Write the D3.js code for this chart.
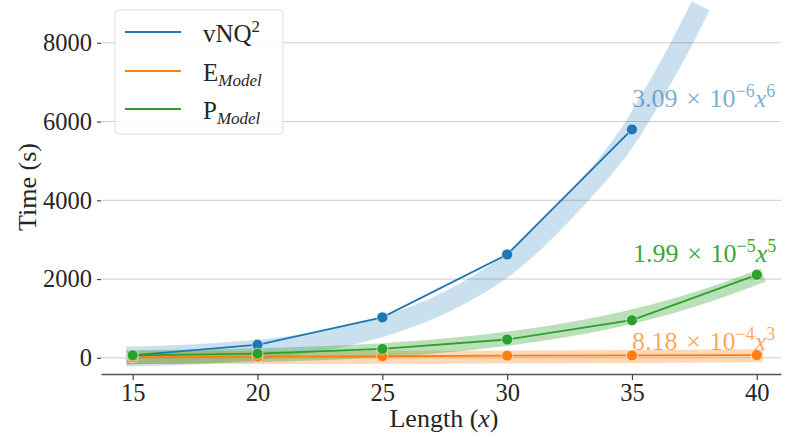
<!DOCTYPE html>
<html>
<head>
<meta charset="utf-8">
<script src="https://cdn.jsdelivr.net/npm/d3@7"></script>
<style>
  body { margin: 0; background: #fff; }
  svg { display: block; }
  text { font-family: "Liberation Serif", "DejaVu Serif", serif; }
</style>
</head>
<body>
<div id="chart"></div>
<script>
// measured points
var lengths = [15, 20, 25, 30, 35, 40];
var vnqTimes = [60, 331, 1027, 2624, 5800];          // no run at 40
var eTimes = [15, 30, 40, 55, 60, 70];
var pTimes = [64, 105, 225, 465, 955, 2107];

// fitted curves (thick light bands)
var vnqFitX = [14.75, 17.5, 20, 22.5, 25, 27.5, 30, 32.5, 35, 36, 37, 37.75];
var vnqFitY = [35, 90, 205, 420, 790, 1400, 2350, 3850, 5780, 6850, 8000, 8940];
var eFitX = [14.75, 20, 25, 30, 35, 40, 40.25];
var eFitY = [3, 7, 13, 22, 35, 52, 53];
var pFitX = [14.75, 17.5, 20, 22.5, 25, 27.5, 30, 32.5, 35, 37.5, 40, 40.25];
var pFitY = [14, 33, 64, 115, 194, 313, 484, 720, 1045, 1480, 2038, 2100];

var yTicks = [0, 2000, 4000, 6000, 8000];

var W = 788, H = 437;
var mLeft = 101, mRight = 781, mTop = 0, mBottom = 374;

var blue = "#1f77b4", orange = "#ff7f0e", green = "#2ca02c";

var svg = d3.select("#chart").append("svg")
    .attr("width", W)
    .attr("height", H);

var x = d3.scaleLinear().domain([13.73, 40.97]).range([mLeft, mRight]);
var y = d3.scaleLinear().domain([-411, 9087]).range([mBottom, mTop]);

svg.append("clipPath").attr("id", "clip")
    .append("rect")
    .attr("x", mLeft).attr("y", mTop)
    .attr("width", mRight - mLeft).attr("height", mBottom - mTop);

// gridlines
svg.append("g")
    .selectAll("line")
    .data(yTicks)
    .enter()
    .append("line")
    .attr("x1", mLeft).attr("x2", mRight)
    .attr("y1", function (d) { return y(d); })
    .attr("y2", function (d) { return y(d); })
    .attr("stroke", "#cccccc")
    .attr("stroke-width", 1);

// y axis (ticks + labels only)
var yAxis = svg.append("g")
    .attr("transform", "translate(" + mLeft + ",0)")
    .call(d3.axisLeft(y).tickValues(yTicks).tickSize(4).tickPadding(5).tickFormat(d3.format("d")));
yAxis.select(".domain").remove();
yAxis.selectAll(".tick line").attr("stroke", "#444").attr("stroke-width", 1.2);
yAxis.selectAll(".tick text")
    .attr("font-size", "24.5px")
    .attr("fill", "#262626");

// x axis
var xAxis = svg.append("g")
    .attr("transform", "translate(0," + mBottom + ")")
    .call(d3.axisBottom(x).tickValues(lengths).tickSize(6).tickPadding(4).tickSizeOuter(0));
xAxis.select(".domain").attr("stroke", "#555").attr("stroke-width", 1.6);
xAxis.selectAll(".tick line").attr("stroke", "#444").attr("stroke-width", 1.2);
xAxis.selectAll(".tick text")
    .attr("font-size", "24.5px")
    .attr("fill", "#262626");

// axis titles
svg.append("text")
    .attr("transform", "translate(36," + (mTop + mBottom) / 2 + ") rotate(-90)")
    .attr("text-anchor", "middle")
    .attr("font-size", "26px")
    .attr("fill", "#262626")
    .text("Time (s)");

var xl = svg.append("text")
    .attr("x", (mLeft + mRight) / 2 + 3)
    .attr("y", 427)
    .attr("text-anchor", "middle")
    .attr("font-size", "26px")
    .attr("fill", "#262626");
xl.append("tspan").text("Length (");
xl.append("tspan").attr("font-style", "italic").text("x");
xl.append("tspan").text(")");

// bands
var plot = svg.append("g").attr("clip-path", "url(#clip)");

function band(xs, ys, color, width, alpha) {
    var pts = xs.map(function (d, i) { return [d, ys[i]]; });
    plot.append("path")
        .datum(pts)
        .attr("d", d3.line()
            .x(function (d) { return x(d[0]); })
            .y(function (d) { return y(d[1]); })
            .curve(d3.curveMonotoneX))
        .attr("fill", "none")
        .attr("stroke", color)
        .attr("stroke-width", width)
        .attr("stroke-opacity", alpha);
}
band(vnqFitX, vnqFitY, blue, 20, 0.23);
band(eFitX, eFitY, orange, 13, 0.3);
band(pFitX, pFitY, green, 14, 0.33);

// series lines + markers
function series(vals, color) {
    var pts = vals.map(function (d, i) { return [lengths[i], d]; });
    var g = svg.append("g");
    g.append("path")
        .datum(pts)
        .attr("d", d3.line()
            .x(function (d) { return x(d[0]); })
            .y(function (d) { return y(d[1]); }))
        .attr("fill", "none")
        .attr("stroke", color)
        .attr("stroke-width", 1.8);
    g.selectAll("circle")
        .data(pts)
        .enter()
        .append("circle")
        .attr("cx", function (d) { return x(d[0]); })
        .attr("cy", function (d) { return y(d[1]); })
        .attr("r", 5.5)
        .attr("fill", color)
        .attr("stroke", "#fff")
        .attr("stroke-width", 0.6);
}
series(vnqTimes, blue);
series(eTimes, orange);
series(pTimes, green);

// fit annotations
function fitLabel(px, py, coef, exp, pow, color, alpha) {
    var t = svg.append("text")
        .attr("x", px).attr("y", py)
        .attr("font-size", "26px")
        .attr("fill", color)
        .attr("fill-opacity", alpha);
    t.append("tspan").text(coef + "\u2004\u00d7\u200410");
    t.append("tspan").attr("font-size", "18px").attr("dy", -10).text("\u2212" + exp);
    t.append("tspan").attr("font-style", "italic").attr("dy", 10).text("x");
    t.append("tspan").attr("font-size", "18px").attr("dy", -10).text(pow);
}
fitLabel(632, 107, "3.09", "6", "6", blue, 0.6);
fitLabel(633, 262, "1.99", "5", "5", green, 0.95);
fitLabel(632, 350, "8.18", "4", "3", orange, 0.7);

// legend
var lg = svg.append("g");
lg.append("rect")
    .attr("x", 115).attr("y", 10)
    .attr("width", 168).attr("height", 124)
    .attr("rx", 4)
    .attr("fill", "#fff").attr("fill-opacity", 0.85)
    .attr("stroke", "#dddddd").attr("stroke-width", 1);

var legendColors = [blue, orange, green];
var legendY = [32, 71, 109];
legendColors.forEach(function (c, i) {
    lg.append("line")
        .attr("x1", 125).attr("x2", 181)
        .attr("y1", legendY[i]).attr("y2", legendY[i])
        .attr("stroke", c).attr("stroke-width", 1.8);
});

var t0 = lg.append("text").attr("x", 203).attr("y", legendY[0] + 10)
    .attr("font-size", "25px").attr("fill", "#262626");
t0.append("tspan").text("vNQ");
t0.append("tspan").attr("font-size", "17px").attr("dy", -10).text("2");

["E", "P"].forEach(function (s, i) {
    var t = lg.append("text").attr("x", 203).attr("y", legendY[i + 1] + 10)
        .attr("font-size", "25px").attr("fill", "#262626");
    t.append("tspan").text(s);
    t.append("tspan").attr("font-size", "17px").attr("font-style", "italic").attr("dy", 5).text("Model");
});
</script>
</body>
</html>
